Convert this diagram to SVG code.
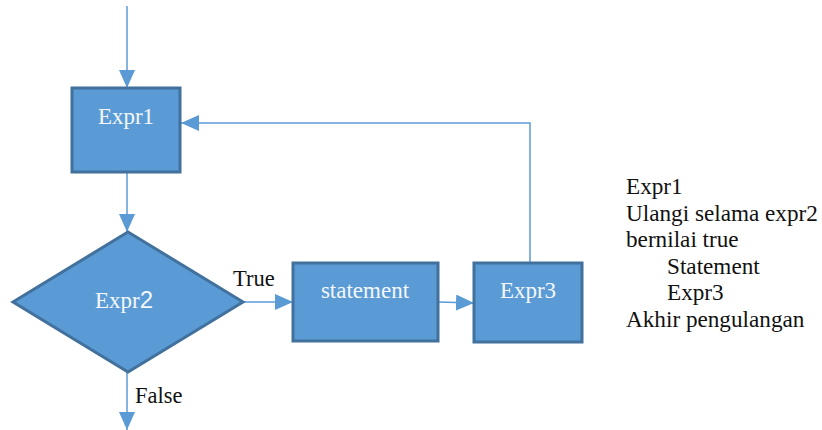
<svg xmlns="http://www.w3.org/2000/svg" width="822" height="430" viewBox="0 0 822 430">
<style>
.box{fill:#5B9BD5;stroke:#41719C;stroke-width:3}
.lbl{font-size:23px;fill:#F4F7FB;text-anchor:middle}
.txt{font-size:22.5px;fill:#111}
.pc{font-size:23.2px;fill:#111}
.con{fill:none;stroke:#5B9BD5;stroke-width:1.5}
</style>
<defs>
<marker id="ah" viewBox="0 0 18 16" refX="18" refY="8" markerWidth="18" markerHeight="16" markerUnits="userSpaceOnUse" orient="auto">
<path d="M0,0 L18,8 L0,16 Z" fill="#5B9BD5"/>
</marker>
<clipPath id="clipR"><rect x="600" y="160" width="222" height="173"/></clipPath>
</defs>
<g id="connectors" font-family="Liberation Serif, DejaVu Serif, Times New Roman, serif">
<line class="con" x1="127" y1="6" x2="127" y2="88" marker-end="url(#ah)"/>
<line class="con" x1="127" y1="172" x2="127" y2="232" marker-end="url(#ah)"/>
<line class="con" x1="243" y1="302" x2="293" y2="302" marker-end="url(#ah)"/>
<line class="con" x1="438" y1="302" x2="474" y2="303" marker-end="url(#ah)"/>
<polyline class="con" points="530,264 530,123 181,123" marker-end="url(#ah)"/>
<line class="con" x1="127" y1="372" x2="127" y2="430" marker-end="url(#ah)"/>
<text class="txt" x="233" y="286">True</text>
<text class="txt" x="135" y="403">False</text>
</g>
<g id="expr1" font-family="Liberation Serif, DejaVu Serif, Times New Roman, serif">
<rect class="box" x="72" y="88" width="108" height="84"/>
<text class="lbl" x="126" y="124">Expr1</text>
</g>
<g id="expr2" font-family="Liberation Serif, DejaVu Serif, Times New Roman, serif">
<polygon class="box" points="128,232 243,302 128,372 13,302"/>
<text class="lbl" x="124" y="308">Expr<tspan font-family="Liberation Sans, Arial, sans-serif" font-size="24">2</tspan></text>
</g>
<g id="statement" font-family="Liberation Serif, DejaVu Serif, Times New Roman, serif">
<rect class="box" x="293" y="263" width="145" height="78"/>
<text class="lbl" x="365" y="298">statement</text>
</g>
<g id="expr3" font-family="Liberation Serif, DejaVu Serif, Times New Roman, serif">
<rect class="box" x="474" y="263" width="108" height="79"/>
<text class="lbl" x="528" y="298">Expr3</text>
</g>
<g id="pseudocode" clip-path="url(#clipR)" font-family="Liberation Serif, DejaVu Serif, Times New Roman, serif">
<text class="pc" x="626" y="194">Expr1</text>
<text class="pc" x="626" y="221">Ulangi selama expr2</text>
<text class="pc" x="626" y="247">bernilai true</text>
<text class="pc" x="667" y="274">Statement</text>
<text class="pc" x="667" y="300">Expr3</text>
<text class="pc" x="626" y="327">Akhir pengulangan</text>
</g>
</svg>
